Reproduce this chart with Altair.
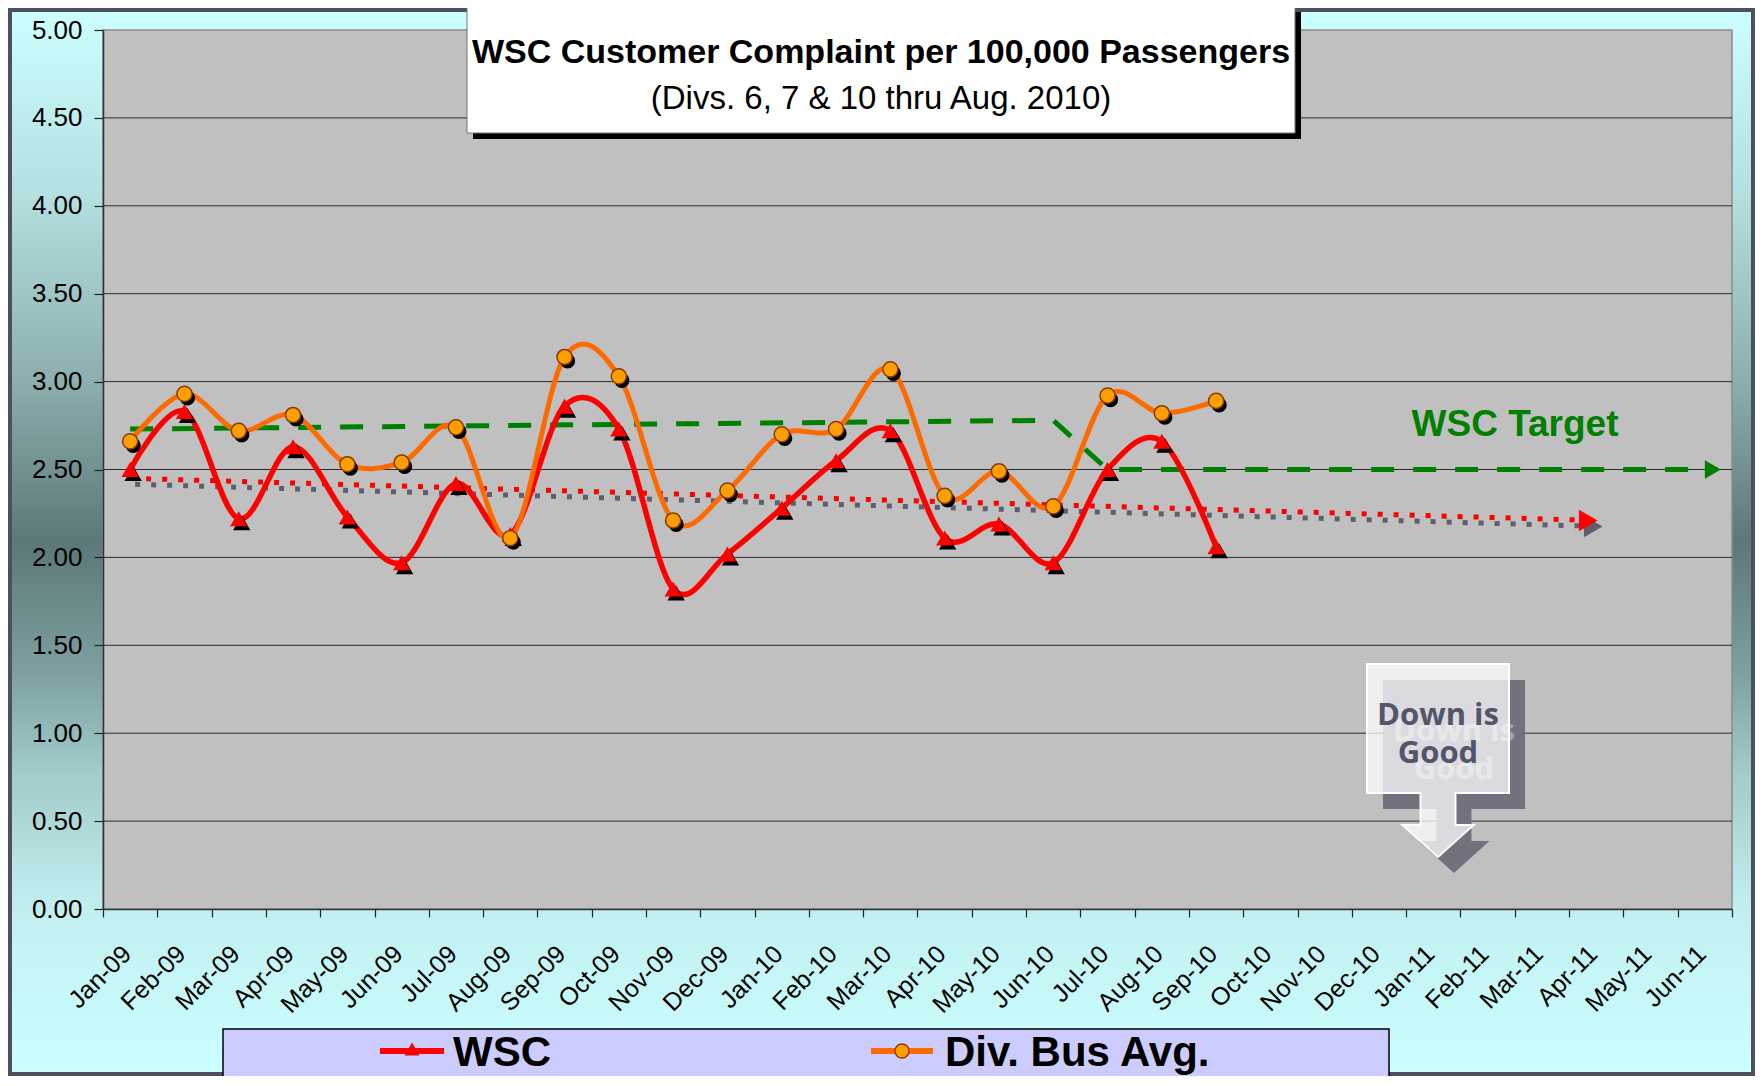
import altair as alt
import pandas as pd

# ---------------- data ----------------
months = ["Jan-09", "Feb-09", "Mar-09", "Apr-09", "May-09", "Jun-09", "Jul-09", "Aug-09",
          "Sep-09", "Oct-09", "Nov-09", "Dec-09", "Jan-10", "Feb-10", "Mar-10", "Apr-10",
          "May-10", "Jun-10", "Jul-10", "Aug-10", "Sep-10", "Oct-10", "Nov-10", "Dec-10",
          "Jan-11", "Feb-11", "Mar-11", "Apr-11", "May-11", "Jun-11"]
data_months = months[:21]
wsc_vals = [2.50, 2.83, 2.22, 2.63, 2.23, 1.97, 2.42, 2.13, 2.86, 2.73, 1.82, 2.02,
            2.28, 2.55, 2.72, 2.11, 2.19, 1.97, 2.50, 2.66, 2.06]
div_vals = [2.66, 2.93, 2.72, 2.81, 2.53, 2.54, 2.74, 2.11, 3.14, 3.03, 2.21, 2.38,
            2.70, 2.73, 3.07, 2.35, 2.49, 2.29, 2.92, 2.82, 2.89]
target_months = ["Jan-09", "Jun-10", "Jul-10", "Jun-11"]
target_vals = [2.73, 2.78, 2.50, 2.50]
trend_months = ["Jan-09", "Apr-11"]
trend_vals = [2.45, 2.21]
y_ticks = [0.0, 0.5, 1.0, 1.5, 2.0, 2.5, 3.0, 3.5, 4.0, 4.5, 5.0]
grid_vals = [0.5, 1.0, 1.5, 2.0, 2.5, 3.0, 3.5, 4.0, 4.5]

title_line1 = "WSC Customer Complaint per 100,000 Passengers"
title_line2 = "(Divs. 6, 7 & 10 thru Aug. 2010)"
target_label = "WSC Target"
callout_lines = ["Down is", "Good"]
legend_labels = ["WSC", "Div. Bus Avg."]

# ---------------- layout ----------------
W, H = 1629, 879
PAD = {"left": 95, "top": 22, "right": 23, "bottom": 167}
FONT = "Liberation Sans"
CFONT = "Open Sans"

wsc_df = pd.DataFrame({"month": data_months, "value": wsc_vals})
div_df = pd.DataFrame({"month": data_months, "value": div_vals})
target_df = pd.DataFrame({"month": target_months, "value": target_vals})
trend_df = pd.DataFrame({"month": trend_months, "value": trend_vals})
grid_df = pd.DataFrame({"value": grid_vals})
one = pd.DataFrame({"k": [0]})

xscale = alt.Scale(type="band", domain=months, paddingInner=0, paddingOuter=0)
yscale = alt.Scale(domain=[0, 5], nice=False, zero=False)
xaxis = alt.Axis(title=None, tickBand="extent", labelAngle=-45, labelAlign="right",
                 labelBaseline="top", labelPadding=24, labelOffset=-12, labelFont=FONT,
                 labelFontSize=25, labelColor="black", tickColor="#222", tickSize=8,
                 tickWidth=1.2, domainColor="#333", domainWidth=1.5, grid=False,
                 labelOverlap=False, zindex=1)
yaxis = alt.Axis(title=None, values=y_ticks, format=".2f", labelFont=FONT, labelFontSize=26,
                 labelColor="black", labelPadding=12, tickColor="#222", tickSize=9,
                 tickWidth=1.2, domainColor="#333", domainWidth=1.5, grid=False, zindex=1)


def X():
    return alt.X("month:N", scale=xscale, axis=xaxis, sort=months)


def Y():
    return alt.Y("value:Q", scale=yscale, axis=yaxis)


def pix_rect(x, x2, y, y2, **kw):
    return alt.Chart(one).mark_rect(**kw).encode(
        x=alt.value(x), x2=alt.value(x2), y=alt.value(y), y2=alt.value(y2))


def pix_text(txt, x, y, **kw):
    return alt.Chart(one).mark_text(text=txt, **kw).encode(x=alt.value(x), y=alt.value(y))


layers = []

# background gradient
grad = alt.LinearGradient(
    gradient="linear", x1=0, y1=0, x2=0, y2=1,
    stops=[alt.GradientStop(color="#CCFFFF", offset=0.0),
           alt.GradientStop(color="#B2DEDE", offset=0.18),
           alt.GradientStop(color="#8CAEAE", offset=0.35),
           alt.GradientStop(color="#5C7878", offset=0.50),
           alt.GradientStop(color="#7C9F9F", offset=0.62),
           alt.GradientStop(color="#A3CCCC", offset=0.72),
           alt.GradientStop(color="#C2F0F0", offset=0.85),
           alt.GradientStop(color="#CCFFFF", offset=1.0)])
layers.append(pix_rect(-PAD["left"] + 4, W + PAD["right"] - 4, -PAD["top"] + 4,
                       H + PAD["bottom"] - 4, fill=grad))
# plot area
layers.append(pix_rect(0, W, 0, H, fill="#C0C0C0", stroke="#8C8C8C", strokeWidth=1.5))
# grid lines
layers.append(alt.Chart(grid_df).mark_rule(color="#2A2A2A", strokeWidth=1).encode(
    y=Y(), x=alt.value(0), x2=alt.value(W)))

# title box
layers.append(pix_rect(370, 1198, -18, 109, fill="black"))
layers.append(pix_rect(364, 1192, -24, 103, fill="white", stroke="#777", strokeWidth=1))
layers.append(pix_text(title_line1, 778, 23, font=FONT, fontSize=34, fontWeight="bold",
                       color="black", align="center", baseline="middle"))
layers.append(pix_text(title_line2, 778, 69, font=FONT, fontSize=33, color="black",
                       align="center", baseline="middle"))

# "Down is Good" callout
callout_path = ("M -0.736 -1 L 0.736 -1 L 0.736 0.337 L 0.181 0.337 L 0.181 0.668 "
                "L 0.368 0.668 L 0 1 L -0.368 0.668 L -0.181 0.668 L -0.181 0.337 "
                "L -0.736 0.337 Z")
CX, CY, CS = 1335, 730.5, 193 * 193
layers.append(alt.Chart(one).mark_point(shape=callout_path, size=CS, filled=True,
                                        fill="#72727F", opacity=1, strokeWidth=0).encode(
    x=alt.value(CX + 16), y=alt.value(CY + 16)))
layers.append(pix_text(callout_lines[0], CX + 16, 686 + 16, font=CFONT, fontSize=31,
                       fontWeight="bold", color="#A4A4AE", align="center", baseline="middle"))
layers.append(pix_text(callout_lines[1], CX + 16, 724 + 16, font=CFONT, fontSize=31,
                       fontWeight="bold", color="#A4A4AE", align="center", baseline="middle"))
layers.append(alt.Chart(one).mark_point(shape=callout_path, size=CS, filled=True,
                                        fill="white", fillOpacity=0.75, stroke="white",
                                        strokeWidth=2, opacity=1).encode(
    x=alt.value(CX), y=alt.value(CY)))
layers.append(pix_text(callout_lines[0], CX, 686, font=CFONT, fontSize=31,
                       fontWeight="bold", color="#55556A", align="center", baseline="middle"))
layers.append(pix_text(callout_lines[1], CX, 724, font=CFONT, fontSize=31,
                       fontWeight="bold", color="#55556A", align="center", baseline="middle"))

# trend line (shadow + red dotted) with arrow
layers.append(alt.Chart(trend_df).mark_line(color="#5E5E6E", strokeWidth=5, strokeDash=[5, 11],
                                            strokeCap="butt", xOffset=5, yOffset=6).encode(
    x=X(), y=Y()))
layers.append(alt.Chart(trend_df.tail(1)).mark_point(shape="triangle-right", filled=True,
                                                     color="#5E5E6E", size=460, opacity=1,
                                                     xOffset=-3, yOffset=6).encode(x=X(), y=Y()))
layers.append(alt.Chart(trend_df).mark_line(color="#FF0000", strokeWidth=5, strokeDash=[5, 11],
                                            strokeCap="butt").encode(x=X(), y=Y()))
layers.append(alt.Chart(trend_df.tail(1)).mark_point(shape="triangle-right", filled=True,
                                                     color="#FF0000", size=460, opacity=1,
                                                     xOffset=-8).encode(x=X(), y=Y()))

# target line with arrow
layers.append(alt.Chart(target_df).mark_line(color="#008000", strokeWidth=5,
                                             strokeDash=[23, 19], strokeCap="butt").encode(
    x=X(), y=Y()))
layers.append(alt.Chart(target_df.tail(1)).mark_point(shape="triangle-right", filled=True,
                                                      color="#008000", size=340, opacity=1,
                                                      xOffset=8).encode(x=X(), y=Y()))
layers.append(pix_text(target_label, 1412, 395, font=FONT, fontSize=37, fontWeight="bold",
                       color="#008000", align="center", baseline="middle"))

# WSC series
layers.append(alt.Chart(wsc_df).mark_line(color="#FF0000", strokeWidth=5.5,
                                          interpolate="cardinal").encode(x=X(), y=Y()))
layers.append(alt.Chart(wsc_df).mark_point(shape="triangle-up", filled=True, color="black",
                                           size=300, opacity=1, xOffset=3, yOffset=4).encode(
    x=X(), y=Y()))
layers.append(alt.Chart(wsc_df).mark_point(shape="triangle-up", filled=True, color="#FF0000",
                                           size=300, opacity=1).encode(x=X(), y=Y()))

# Div. Bus Avg. series
layers.append(alt.Chart(div_df).mark_line(color="#FF6A00", strokeWidth=5,
                                          interpolate="cardinal").encode(x=X(), y=Y()))
layers.append(alt.Chart(div_df).mark_point(shape="circle", filled=True, color="black",
                                           size=230, opacity=1, xOffset=3, yOffset=4).encode(
    x=X(), y=Y()))
layers.append(alt.Chart(div_df).mark_point(shape="circle", filled=True, fill="#FF9E00",
                                           stroke="#8B3A00", strokeWidth=1.5, size=230,
                                           opacity=1).encode(x=X(), y=Y()))

# legend box
layers.append(pix_rect(120, 1286, 999, H + PAD["bottom"] + 20, fill="#CCCCFF",
                       stroke="black", strokeWidth=1.5))
layers.append(alt.Chart(one).mark_rule(color="#FF0000", strokeWidth=6).encode(
    x=alt.value(277), x2=alt.value(341), y=alt.value(1021)))
layers.append(alt.Chart(one).mark_point(shape="triangle-up", filled=True, color="#FF0000",
                                        size=220, opacity=1).encode(
    x=alt.value(309), y=alt.value(1019)))
layers.append(pix_text(legend_labels[0], 350, 1036, font=FONT, fontSize=42, fontWeight="bold",
                       color="black", align="left", baseline="alphabetic"))
layers.append(alt.Chart(one).mark_rule(color="#FF6A00", strokeWidth=6).encode(
    x=alt.value(768), x2=alt.value(830), y=alt.value(1021)))
layers.append(alt.Chart(one).mark_point(shape="circle", filled=True, fill="#FF9E00",
                                        stroke="#8B3A00", strokeWidth=1.5, size=200,
                                        opacity=1).encode(x=alt.value(799), y=alt.value(1021)))
layers.append(pix_text(legend_labels[1], 842, 1036, font=FONT, fontSize=42, fontWeight="bold",
                       color="black", align="left", baseline="alphabetic"))

chart = alt.layer(*layers).properties(
    width=W, height=H, padding=PAD,
    autosize=alt.AutoSizeParams(type="none"),
    background="#4E5060",
).configure_view(strokeWidth=0)

chart.save("out.html", embed_options={"renderer": "svg", "actions": False})
